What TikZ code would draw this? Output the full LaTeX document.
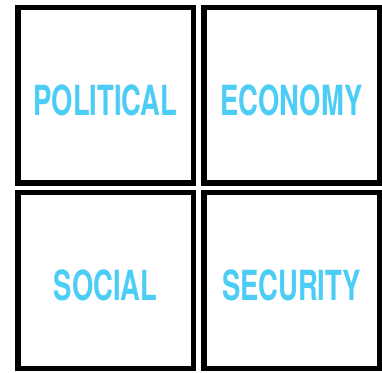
\documentclass[tikz,border=0pt]{standalone}
\usepackage{fontspec}
\usepackage{tikz}
\newfontfamily\condfont[FakeStretch=0.66]{TeX Gyre Heros}
\definecolor{skyblue}{HTML}{4CCDF5}
\newcommand*{\boxsz}{175.5pt}
\newcommand*{\lw   }{5.5pt}
\newcommand*{\colA }{105.5}
\newcommand*{\colB }{291.5}
\newcommand*{\rowA }{276.5}
\newcommand*{\rowB }{91.5}
\newcommand*{\drop }{-5pt}

\begin{document}
\begin{tikzpicture}[x=1pt, y=1pt,
    panel/.style={draw=black, line width=\lw, fill=white, minimum size=\boxsz, inner sep=0pt},
    word/.style={text=skyblue, font=\condfont\bfseries\fontsize{41.5}{41.5}\selectfont, inner sep=0pt}]
    \useasboundingbox [fill=white] (0,0) rectangle (382,372);
        \node [panel] (tl) at (\colA,\rowA) {};
        \node [panel] (tr) at (\colB,\rowA) {};
        \node [panel] (bl) at (\colA,\rowB) {};
        \node [panel] (br) at (\colB,\rowB) {};
        \node [word] (political) at ([yshift=\drop]tl.center) {POLITICAL};
        \node [word] (economy)   at ([yshift=\drop]tr.center) {ECONOMY};
        \node [word] (social)    at ([yshift=\drop]bl.center) {SOCIAL};
        \node [word] (security)  at ([yshift=\drop]br.center) {SECURITY};
    \end{tikzpicture}
\end{document}
